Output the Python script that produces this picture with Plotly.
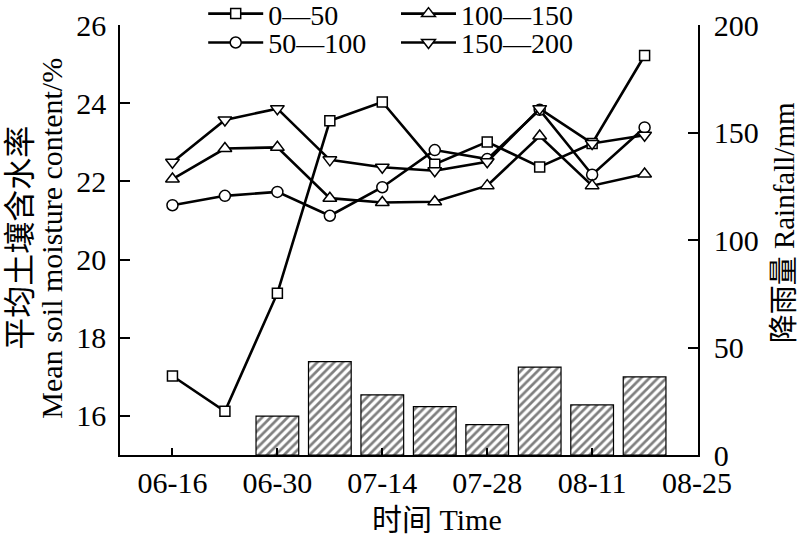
import plotly.graph_objects as go

# ---- data ----
dates = ["2019-06-16", "2019-06-23", "2019-06-30", "2019-07-07", "2019-07-14",
         "2019-07-21", "2019-07-28", "2019-08-04", "2019-08-11", "2019-08-18"]
rain_dates = ["2019-06-30", "2019-07-07", "2019-07-14", "2019-07-21",
              "2019-07-28", "2019-08-04", "2019-08-11", "2019-08-18"]
rainfall = [18.1, 43.4, 28.0, 22.5, 14.1, 40.9, 23.3, 36.3]

sm_0_50 = [17.02, 16.12, 19.14, 23.55, 24.03, 22.44, 23.01, 22.37, 22.97, 25.22]
sm_50_100 = [21.39, 21.63, 21.73, 21.12, 21.85, 22.80, 22.57, 23.83, 22.17, 23.38]
sm_100_150 = [22.06, 22.84, 22.87, 21.57, 21.46, 21.48, 21.89, 23.16, 21.89, 22.19]
sm_150_200 = [22.49, 23.57, 23.86, 22.55, 22.36, 22.27, 22.50, 23.86, 22.97, 23.18]

series_names = ["0—50", "50—100", "100—150", "150—200"]
tick_vals = ["2019-06-16", "2019-06-30", "2019-07-14", "2019-07-28", "2019-08-11", "2019-08-25"]
tick_text = ["06-16", "06-30", "07-14", "07-28", "08-11", "08-25"]

FONT = "Liberation Serif, Times New Roman, Noto Sans CJK SC, serif"

fig = go.Figure()

DAY_MS = 86400000
fig.add_trace(go.Bar(
    x=rain_dates, y=rainfall, yaxis="y2", width=5.7 * DAY_MS,
    marker=dict(color="white", line=dict(color="black", width=1.2),
                pattern=dict(shape="/", fgcolor="black", bgcolor="white", size=6, solidity=0.45)),
    showlegend=False,
))

series = [sm_0_50, sm_50_100, sm_100_150, sm_150_200]
symbols = ["square", "circle", "triangle-up", "triangle-down"]
msizes = [10, 11, 12, 12]
legends = ["legend", "legend3", "legend2", "legend4"]
for vals, name, sym, ms, lg in zip(series, series_names, symbols, msizes, legends):
    fig.add_trace(go.Scatter(
        x=dates, y=vals, name=name, mode="lines+markers",
        line=dict(color="black", width=2.6),
        marker=dict(symbol=sym, size=ms, color="white",
                    line=dict(color="black", width=1.5)),
        legend=lg,
    ))

axis_common = dict(showline=True, linecolor="black", linewidth=1.5, ticks="inside",
                   tickcolor="black", tickwidth=1.5, showgrid=False, zeroline=False,
                   automargin=False,
                   tickfont=dict(family=FONT, size=30, color="black"))

leg_common = dict(bgcolor="rgba(0,0,0,0)", font=dict(family=FONT, size=28, color="black"),
                  xref="container", yref="container",
                  yanchor="middle", xanchor="left", itemwidth=55)

fig.update_layout(
    width=800, height=535,
    margin=dict(l=120, r=102, t=25, b=80, autoexpand=False),
    paper_bgcolor="white", plot_bgcolor="white",
    font=dict(family=FONT, size=28, color="black"),
    xaxis=dict(type="date", range=["2019-06-09 00:00", "2019-08-25 03:00"],
               tickvals=tick_vals, ticktext=tick_text, ticklen=7, **axis_common),
    yaxis=dict(range=[15, 26], tickvals=[16, 18, 20, 22, 24, 26], ticklen=10,
               ticklabelstandoff=6, **axis_common),
    yaxis2=dict(range=[0, 200], tickvals=[0, 50, 100, 150, 200], overlaying="y", side="right",
                ticklen=10, ticklabelstandoff=8, **axis_common),
    legend=dict(x=0.254, y=0.974, **leg_common),
    legend2=dict(x=0.495, y=0.974, **leg_common),
    legend3=dict(x=0.254, y=0.920, **leg_common),
    legend4=dict(x=0.495, y=0.920, **leg_common),
    showlegend=True,
    annotations=[
        dict(text="时间 Time", xref="paper", yref="paper", x=0.548, y=-0.151,
             xanchor="center", yanchor="middle", showarrow=False,
             font=dict(family=FONT, size=30, color="black")),
        dict(text="平均土壤含水率", xref="paper", yref="paper", x=-0.173, y=0.505,
             xanchor="center", yanchor="middle", showarrow=False, textangle=-90,
             font=dict(family=FONT, size=32, color="black")),
        dict(text="Mean soil moisture content/%", xref="paper", yref="paper", x=-0.118, y=0.505,
             xanchor="center", yanchor="middle", showarrow=False, textangle=-90,
             font=dict(family=FONT, size=30, color="black")),
        dict(text="降雨量 Rainfall/mm", xref="paper", yref="paper", x=1.148, y=0.54,
             xanchor="center", yanchor="middle", showarrow=False, textangle=-90,
             font=dict(family=FONT, size=29, color="black")),
    ],
)

fig.write_html("out.html", config={"displayModeBar": False},
               post_script="document.body.style.margin='0';")
